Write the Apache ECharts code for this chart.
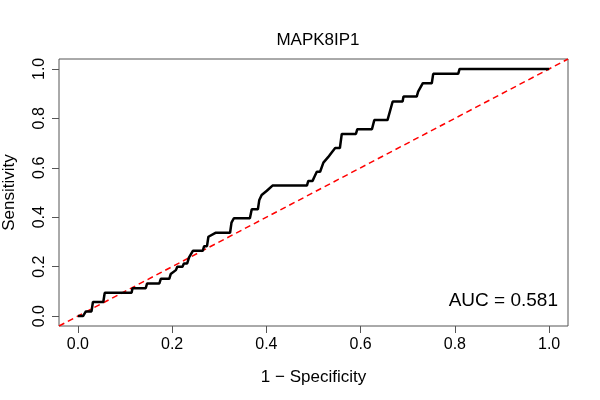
<!DOCTYPE html>
<html>
<head>
<meta charset="utf-8">
<script src="https://cdn.jsdelivr.net/npm/echarts@6/dist/echarts.min.js"></script>
<style>html,body{margin:0;padding:0;background:#fff}#c{width:600px;height:400px}</style>
</head>
<body>
<div id="c"></div>
<script>
var chartTitle = "MAPK8IP1";
var xLabel = "1 \u2212 Specificity";
var yLabel = "Sensitivity";
var aucText = "AUC = 0.581";
var tickValues = [0, 0.2, 0.4, 0.6, 0.8, 1.0];
// ROC curve: 1 - specificity and sensitivity
var fpr = [0, 0.011, 0.017, 0.029, 0.032, 0.054, 0.057, 0.114, 0.116, 0.144, 0.147, 0.173, 0.176, 0.194, 0.197, 0.208,
  0.211, 0.222, 0.225, 0.232, 0.236, 0.244, 0.265, 0.268, 0.274, 0.277, 0.292, 0.323, 0.326, 0.331, 0.365, 0.369, 0.382,
  0.385, 0.390, 0.401, 0.413, 0.486, 0.489, 0.498, 0.502, 0.507, 0.514, 0.521, 0.531, 0.539, 0.546, 0.556, 0.560, 0.590,
  0.593, 0.624, 0.629, 0.657, 0.668, 0.689, 0.691, 0.719, 0.722, 0.732, 0.751, 0.754, 0.807, 0.810, 1.0];
var tpr = [0, 0, 0.019, 0.019, 0.057, 0.057, 0.094, 0.094, 0.113, 0.113, 0.132, 0.132, 0.151, 0.151, 0.170, 0.186,
  0.200, 0.200, 0.213, 0.213, 0.238, 0.264, 0.264, 0.283, 0.283, 0.321, 0.337, 0.337, 0.378, 0.396, 0.396, 0.432, 0.432,
  0.470, 0.490, 0.507, 0.528, 0.528, 0.547, 0.547, 0.564, 0.584, 0.584, 0.621, 0.643, 0.663, 0.680, 0.680, 0.737, 0.737,
  0.756, 0.756, 0.793, 0.793, 0.868, 0.868, 0.888, 0.888, 0.908, 0.942, 0.942, 0.980, 0.980, 1.0, 1.0];
var diagX = [-0.04, 1.04];
var diagY = [-0.04, 1.04];

var curve = fpr.map(function (v, i) { return [v, tpr[i]]; });
var diag = diagX.map(function (v, i) { return [v, diagY[i]]; });
var font = "Liberation Sans, Arial, Helvetica, sans-serif";

var chart = echarts.init(document.getElementById('c'));
chart.setOption({
  animation: false,
  backgroundColor: '#fff',
  title: {
    text: chartTitle, left: 313, top: 27, textAlign: 'center',
    textStyle: { fontFamily: font, fontSize: 17, fontWeight: 'normal', color: '#000' }
  },
  grid: { left: 59, right: 32, top: 59, bottom: 74, containLabel: false, outerBoundsMode: 'none',
    show: true, borderColor: '#555', borderWidth: 1, backgroundColor: 'transparent' },
  xAxis: {
    type: 'value', min: -0.04, max: 1.04,
    name: xLabel, nameLocation: 'middle', nameGap: 43,
    nameTextStyle: { fontFamily: font, fontSize: 17, color: '#000' },
    axisLine: { show: false, onZero: false },
    splitLine: { show: false },
    axisTick: { show: true, length: 7, lineStyle: { color: '#555' }, customValues: tickValues },
    axisLabel: { fontFamily: font, fontSize: 16, color: '#000', margin: 11, customValues: tickValues,
      formatter: function (v) { return v.toFixed(1); } }
  },
  yAxis: {
    type: 'value', min: -0.04, max: 1.04,
    name: yLabel, nameLocation: 'middle', nameGap: 41,
    nameTextStyle: { fontFamily: font, fontSize: 17, color: '#000' },
    axisLine: { show: false, onZero: false },
    splitLine: { show: false },
    axisTick: { show: true, length: 7, lineStyle: { color: '#555' }, customValues: tickValues },
    axisLabel: { fontFamily: font, fontSize: 16, color: '#000', margin: 11, rotate: 90, customValues: tickValues,
      formatter: function (v) { return v.toFixed(1); } }
  },
  graphic: [{
    type: 'text', right: 42, top: 291,
    style: { text: aucText, font: '19px ' + font, fill: '#000' }
  }],
  series: [{
    type: 'line', data: diag, symbol: 'none', silent: true,
    lineStyle: { color: '#ff0000', width: 1.5, type: [6, 4] }, z: 2
  }, {
    type: 'line', data: curve, symbol: 'none', silent: true,
    lineStyle: { color: '#000', width: 2.5 }, z: 3
  }]
});
</script>
</body>
</html>
